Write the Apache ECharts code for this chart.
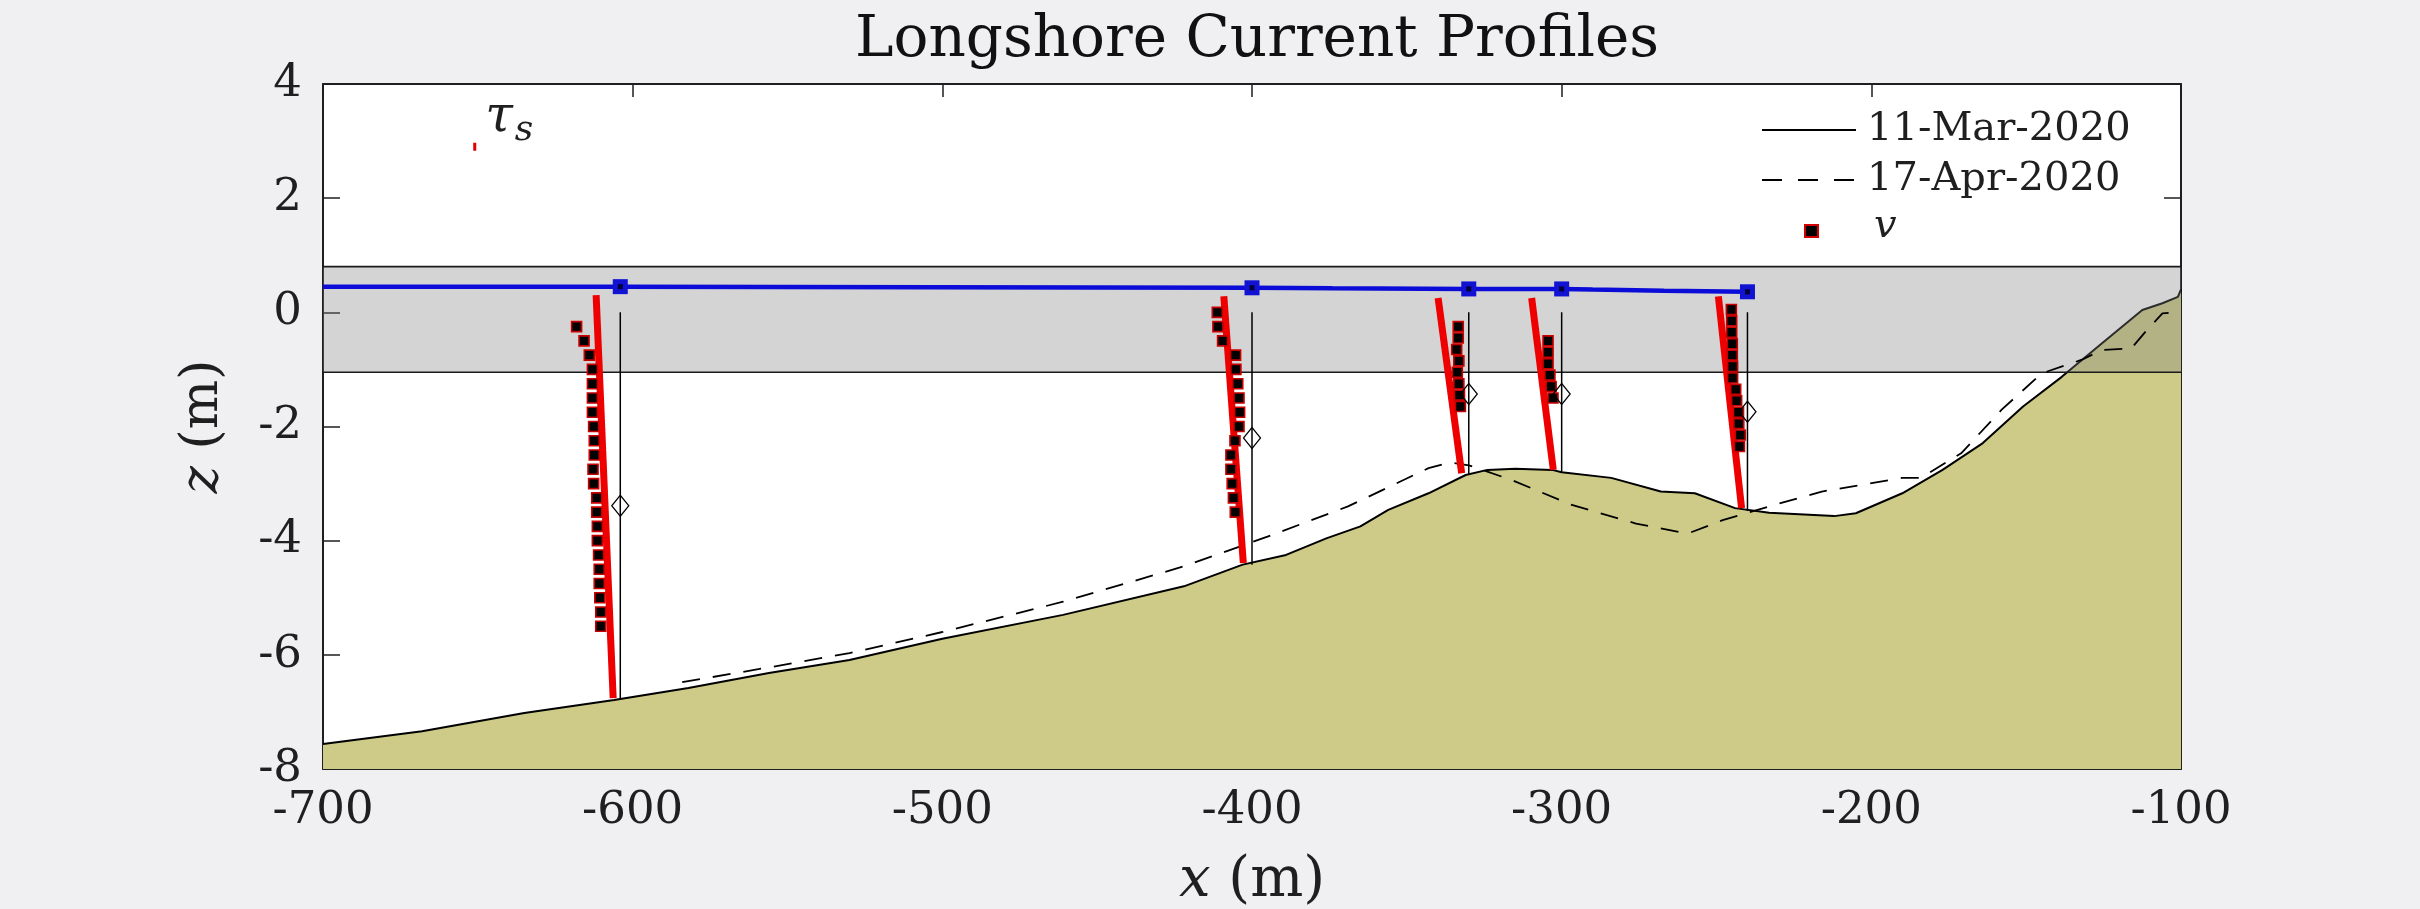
<!DOCTYPE html>
<html>
<head>
<meta charset="utf-8">
<title>Longshore Current Profiles</title>
<script src="https://cdn.jsdelivr.net/npm/echarts@6/dist/echarts.min.js"></script>
<style>
  html, body { margin: 0; padding: 0; background: #f0f0f2; }
  #chart { width: 2420px; height: 909px; }
</style>
</head>
<body>
<div id="chart"></div>
<script>
// Axis ranges (m)
const xMin = -700, xMax = -100, xStep = 100;
const zMin = -8, zMax = 4, zStep = 2;

// Bed profile surveyed 11-Mar-2020 (cross-shore x, elevation z)
const bedMarX = [-700, -668, -635, -606, -582, -556, -530, -500, -461, -422, -403, -389, -376, -365, -356, -343, -331, -324, -315, -303, -300, -284, -268, -257, -244, -233, -212, -205, -190, -177, -164, -151, -138.5, -125.5, -112.5, -106, -101, -100];
const bedMarZ = [-7.56, -7.34, -7.02, -6.79, -6.58, -6.32, -6.09, -5.72, -5.30, -4.80, -4.42, -4.25, -3.96, -3.75, -3.46, -3.17, -2.85, -2.76, -2.74, -2.76, -2.80, -2.90, -3.14, -3.17, -3.43, -3.51, -3.57, -3.52, -3.17, -2.76, -2.29, -1.65, -1.13, -0.54, 0.04, 0.16, 0.27, 0.40];

// Bed profile surveyed 17-Apr-2020
const bedAprX = [-584, -556, -530, -500, -461, -422, -395, -369, -343, -336, -330, -316, -297, -276, -262, -259, -248, -233, -216, -203, -190, -184, -171, -158, -145, -132, -125.5, -116, -111, -106, -100];
const bedAprZ = [-6.48, -6.22, -5.97, -5.60, -5.07, -4.45, -3.93, -3.40, -2.73, -2.63, -2.68, -2.94, -3.37, -3.70, -3.85, -3.87, -3.64, -3.40, -3.14, -3.02, -2.90, -2.90, -2.47, -1.71, -1.07, -0.83, -0.66, -0.63, -0.31, -0.02, 0.01];

// Mean water surface
const surfX = [-700, -604, -400, -374, -330, -300, -290, -267, -240];
const surfZ = [0.45, 0.45, 0.43, 0.42, 0.41, 0.41, 0.40, 0.38, 0.36];

// Instrument frames
const instX = [-604, -400, -330, -300, -240];
const instSurfZ = [0.45, 0.43, 0.41, 0.41, 0.36];
const instTopZ = [0, 0, 0, 0, 0];
const instBedZ = [-6.78, -4.42, -2.85, -2.81, -3.48];
const sensorZ = [-3.39, -2.20, -1.43, -1.43, -1.74];

// Modelled current profiles (top and bottom ends)
const modelTopX = [-611.8, -409.1, -339.9, -309.7, -249.4];
const modelTopZ = [0.30, 0.28, 0.25, 0.25, 0.28];
const modelBotX = [-606.3, -402.8, -332.3, -302.7, -241.9];
const modelBotZ = [-6.76, -4.39, -2.82, -2.76, -3.43];

// Measured longshore current v, per frame
const v1Z = [-0.25, -0.5, -0.75, -1.0, -1.25, -1.5, -1.75, -2.0, -2.25, -2.5, -2.75, -3.0, -3.25, -3.5, -3.75, -4.0, -4.25, -4.5, -4.75, -5.0, -5.25, -5.5];
const v1X = [-618.1, -615.7, -614.0, -613.0, -613.0, -613.0, -613.0, -612.6, -612.4, -612.4, -612.8, -612.6, -611.6, -611.6, -611.4, -611.4, -611.0, -610.8, -610.8, -610.6, -610.3, -610.3];
const v2Z = [0.0, -0.25, -0.5, -0.75, -1.0, -1.25, -1.5, -1.75, -2.0, -2.25, -2.5, -2.75, -3.0, -3.25, -3.5];
const v2X = [-411.2, -411.0, -409.5, -405.3, -405.2, -404.6, -404.2, -404.0, -404.2, -405.5, -406.8, -406.8, -406.4, -406.0, -405.4];
const v3Z = [-0.25, -0.45, -0.65, -0.85, -1.05, -1.25, -1.45, -1.65];
const v3X = [-333.4, -333.4, -333.9, -333.2, -333.7, -333.2, -333.0, -332.7];
const v4Z = [-0.5, -0.7, -0.9, -1.1, -1.3, -1.5];
const v4X = [-304.4, -304.4, -304.4, -303.8, -303.4, -302.8];
const v5Z = [0.05, -0.15, -0.35, -0.55, -0.75, -0.95, -1.15, -1.35, -1.55, -1.75, -1.95, -2.15, -2.35];
const v5X = [-245.2, -245.1, -245.1, -244.9, -244.9, -244.8, -244.8, -243.8, -243.5, -242.9, -242.8, -242.3, -242.6];

// Surface stress vector
const tauX = [-651, -651];
const tauZ = [2.83, 2.97];

// Shaded elevation band
const bandTop = 0.8, bandBottom = -1.05;

const serif = 'DejaVu Serif';
const ink = '#1f1f1f';
const pair = (xs, zs) => xs.map((x, i) => [x, zs[i]]);

const series = [];

// Bed, filled down to the axis bottom
series.push({
  type: 'line', name: '11-Mar-2020', data: pair(bedMarX, bedMarZ),
  symbol: 'none', z: 2, silent: true,
  lineStyle: { color: '#000', width: 2 },
  areaStyle: { color: '#cdcb87', opacity: 1, origin: 'start' }
});

// Translucent band with its edge lines
series.push({
  type: 'custom', z: 3, silent: true,
  data: [[xMin, bandTop, xMax, bandBottom]],
  encode: { x: [0, 2], y: [1, 3] },
  renderItem: (params, api) => {
    const p0 = api.coord([api.value(0), api.value(1)]);
    const p1 = api.coord([api.value(2), api.value(3)]);
    return {
      type: 'group',
      children: [
        { type: 'rect', shape: { x: p0[0], y: p0[1], width: p1[0] - p0[0], height: p1[1] - p0[1] },
          style: { fill: 'rgba(128,128,130,0.34)' } },
        { type: 'line', shape: { x1: p0[0], y1: p0[1], x2: p1[0], y2: p0[1] },
          style: { stroke: '#1a1a1a', lineWidth: 1.6 } },
        { type: 'line', shape: { x1: p0[0], y1: p1[1], x2: p1[0], y2: p1[1] },
          style: { stroke: '#1a1a1a', lineWidth: 1.6 } }
      ]
    };
  }
});

// Later survey
series.push({
  type: 'line', name: '17-Apr-2020', data: pair(bedAprX, bedAprZ),
  symbol: 'none', z: 4, silent: true,
  lineStyle: { color: '#000', width: 1.8, type: [18, 13] }
});

// Instrument stems
instX.forEach((x, i) => {
  series.push({
    type: 'line', data: [[x, instTopZ[i]], [x, instBedZ[i]]],
    symbol: 'none', z: 5, silent: true,
    lineStyle: { color: '#000', width: 1.5 }
  });
});

// Modelled profiles
modelTopX.forEach((x, i) => {
  series.push({
    type: 'line', data: [[x, modelTopZ[i]], [modelBotX[i], modelBotZ[i]]],
    symbol: 'none', z: 6, silent: true,
    lineStyle: { color: '#ee0000', width: 7, cap: 'butt' }
  });
});

// Measured v
const vData = [].concat(pair(v1X, v1Z), pair(v2X, v2Z), pair(v3X, v3Z), pair(v4X, v4Z), pair(v5X, v5Z));
series.push({
  type: 'scatter', name: 'v', data: vData, z: 7, silent: true,
  symbol: 'rect', symbolSize: 10,
  itemStyle: { color: '#000', borderColor: '#c80000', borderWidth: 1.6, opacity: 1 }
});

// Sensor positions
series.push({
  type: 'scatter', data: pair(instX, sensorZ), z: 8, silent: true,
  symbol: 'diamond', symbolSize: [17, 21],
  itemStyle: { color: 'rgba(0,0,0,0)', borderColor: '#000', borderWidth: 1.3, opacity: 1 }
});

// Water surface
series.push({
  type: 'line', data: pair(surfX, surfZ), symbol: 'none', z: 9, silent: true,
  lineStyle: { color: '#0c0cd8', width: 4.5 }
});
series.push({
  type: 'scatter', data: pair(instX, instSurfZ), z: 10, silent: true,
  symbol: 'rect', symbolSize: 15,
  itemStyle: { color: '#1212d2', opacity: 1 }
});
series.push({
  type: 'scatter', data: pair(instX, instSurfZ), z: 11, silent: true,
  symbol: 'rect', symbolSize: 5,
  itemStyle: { color: '#00003a', opacity: 1 }
});

// Surface stress
series.push({
  type: 'line', data: pair(tauX, tauZ), symbol: 'none', z: 9, silent: true,
  lineStyle: { color: '#e00000', width: 3 }
});

const xAxisBase = {
  type: 'value', min: xMin, max: xMax, interval: xStep,
  splitLine: { show: false },
  axisLine: { show: true, onZero: false, lineStyle: { color: ink, width: 2 } },
  axisTick: { show: true, inside: true, length: 13, lineStyle: { color: ink, width: 1.5 } }
};
const yAxisBase = {
  type: 'value', min: zMin, max: zMax, interval: zStep,
  splitLine: { show: false },
  axisLine: { show: true, onZero: false, lineStyle: { color: ink, width: 2 } },
  axisTick: { show: true, inside: true, length: 17, lineStyle: { color: ink, width: 1.5 } }
};

const option = {
  animation: false,
  backgroundColor: '#f0f0f2',
  title: {
    text: 'Longshore Current Profiles',
    left: 1252, top: 7, textAlign: 'center',
    textStyle: { fontFamily: serif, fontSize: 58, fontWeight: 'normal', color: '#111' }
  },
  grid: {
    left: 323, right: 239, top: 84, bottom: 140,
    show: true, backgroundColor: '#ffffff', borderWidth: 0,
    containLabel: false, outerBoundsMode: 'none'
  },
  xAxis: [
    Object.assign({}, xAxisBase, {
      position: 'bottom',
      name: '{i|x} (m)', nameLocation: 'middle', nameGap: 84,
      nameTextStyle: {
        fontFamily: serif, fontSize: 56, color: ink,
        rich: { i: { fontFamily: serif, fontSize: 56, fontStyle: 'italic', color: ink } }
      },
      axisLabel: { show: true, margin: 20, showMinLabel: true, showMaxLabel: true,
        fontFamily: serif, fontSize: 45, color: ink }
    }),
    Object.assign({}, xAxisBase, { position: 'top', axisLabel: { show: false } })
  ],
  yAxis: [
    Object.assign({}, yAxisBase, {
      position: 'left',
      name: '{i|z} (m)', nameLocation: 'middle', nameGap: 94, nameRotate: 90,
      nameTextStyle: {
        fontFamily: serif, fontSize: 52, color: ink,
        rich: { i: { fontFamily: serif, fontSize: 52, fontStyle: 'italic', color: ink } }
      },
      axisLabel: { show: true, margin: 21, showMinLabel: true, showMaxLabel: true,
        fontFamily: serif, fontSize: 45, color: ink }
    }),
    Object.assign({}, yAxisBase, { position: 'right', axisLabel: { show: false } })
  ],
  graphic: [
    // legend
    { type: 'line', z: 100, shape: { x1: 1762, y1: 130, x2: 1856, y2: 130 },
      style: { stroke: '#000', lineWidth: 1.8 } },
    { type: 'text', z: 100, x: 1867, y: 130,
      style: { text: '11-Mar-2020', fontFamily: serif, fontSize: 40, fill: ink,
        textAlign: 'left', textVerticalAlign: 'middle' } },
    { type: 'line', z: 100, shape: { x1: 1762, y1: 180, x2: 1856, y2: 180 },
      style: { stroke: '#000', lineWidth: 1.8, lineDash: [20, 16] } },
    { type: 'text', z: 100, x: 1867, y: 180,
      style: { text: '17-Apr-2020', fontFamily: serif, fontSize: 40, fill: ink,
        textAlign: 'left', textVerticalAlign: 'middle' } },
    { type: 'rect', z: 100, shape: { x: 1805, y: 225, width: 13, height: 12 },
      style: { fill: '#000', stroke: '#d40000', lineWidth: 2 } },
    { type: 'text', z: 100, x: 1874, y: 227,
      style: { text: 'v', fontFamily: serif, fontSize: 40, fontStyle: 'italic', fill: ink,
        textAlign: 'left', textVerticalAlign: 'middle' } },
    // surface stress label
    { type: 'text', z: 100, x: 499, y: 118,
      style: { text: 'τ', fontFamily: serif, fontSize: 50, fontStyle: 'italic', fill: ink,
        textAlign: 'center', textVerticalAlign: 'middle' } },
    { type: 'text', z: 100, x: 524, y: 131,
      style: { text: 's', fontFamily: serif, fontSize: 36, fontStyle: 'italic', fill: ink,
        textAlign: 'center', textVerticalAlign: 'middle' } }
  ],
  series: series
};

const chart = echarts.init(document.getElementById('chart'), null, { renderer: 'canvas' });
chart.setOption(option);
</script>
</body>
</html>
